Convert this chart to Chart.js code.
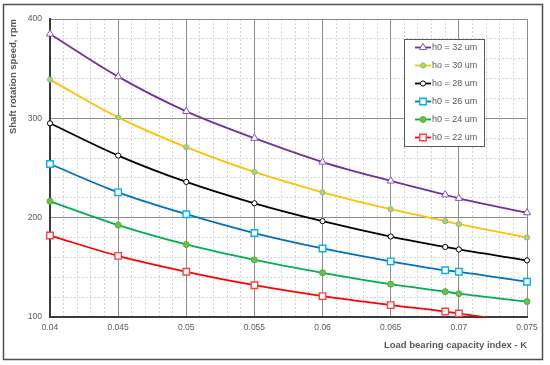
<!DOCTYPE html>
<html>
<head>
<meta charset="utf-8">
<script src="https://cdn.jsdelivr.net/npm/chart.js@4"></script>
<style>
  body { margin: 0; background: #fff; }
  #wrap { width: 550px; height: 365px; position: relative; }
</style>
</head>
<body>
<div id="wrap"><canvas id="my-chart"></canvas></div>
<script>
// load bearing capacity index K (x values)
const kValues = [0.04, 0.045, 0.05, 0.055, 0.06, 0.065, 0.069, 0.07, 0.075];

// shaft speed, rpm, one list per film thickness
const h32 = [385, 342, 307, 280, 256, 237, 223, 219.5, 205];
const h30 = [339, 301, 271, 246, 225.5, 208.5, 196.5, 193.5, 180];
const h28 = [295, 262.5, 236, 214.5, 196.5, 181, 170.5, 168, 157];
const h26 = [254, 225.5, 203.5, 184.5, 169, 156, 147, 145.5, 135.5];
const h24 = [216.5, 192.5, 173, 157.5, 144.5, 133, 125.5, 123.5, 115.5];
const h22 = [182, 161.5, 145.5, 132, 121, 112, 105.5, 103.5, 94];

const seriesLabels = ["h0 = 32 um", "ho = 30 um", "ho = 28 um", "h0 = 26 um", "h0 = 24 um", "h0 = 22 um"];

const textGrey = "#595959";

function toPoints(arr) {
    return arr.map((v, i) => ({ x: kValues[i], y: v }));
}

function makeSet(label, values, line, style, radius, fill, stroke, bw) {
    return {
        label: label,
        data: toPoints(values),
        borderColor: line,
        borderWidth: 1.8,
        pointStyle: style,
        pointRadius: radius,
        pointHoverRadius: radius,
        pointBackgroundColor: fill,
        pointBorderColor: stroke,
        pointBorderWidth: bw,
        cubicInterpolationMode: "monotone",
        // let edge markers show, but cut the line at the bottom axis
        clip: { left: 10, top: 10, right: 10, bottom: 0 }
    };
}

const datasets = [
    makeSet(seriesLabels[0], h32, "#7030A0", "triangle", 4.2, "#fff", "#8B4FC0", 1),
    makeSet(seriesLabels[1], h30, "#FFC000", "circle", 2.6, "#A9D08E", "#8CC063", 1),
    makeSet(seriesLabels[2], h28, "#000000", "circle", 2.6, "#fff", "#000", 1),
    makeSet(seriesLabels[3], h26, "#0070C0", "rect", 4.6, "#fff", "#00B0F0", 1.4),
    makeSet(seriesLabels[4], h24, "#00B050", "circle", 3, "#6CC04A", "#4DAF3A", 1),
    makeSet(seriesLabels[5], h22, "#FF0000", "rect", 4.6, "#fff", "#FF4040", 1.4)
];

function isMultiple(v, step) {
    const r = v / step;
    return Math.abs(r - Math.round(r)) < 1e-6;
}

// white background + outer frame
const framePlugin = {
    id: "frame",
    beforeDraw(chart) {
        const ctx = chart.ctx;
        ctx.save();
        ctx.fillStyle = "#fff";
        ctx.fillRect(0, 0, chart.width, chart.height);
        ctx.strokeStyle = "#4f4f4f";
        ctx.lineWidth = 1.5;
        ctx.strokeRect(3.5, 4.5, 539, 355);
        ctx.restore();
    }
};

// boxed legend inside the plot
const boxLegend = {
    id: "boxLegend",
    afterDraw(chart) {
        const ctx = chart.ctx;
        ctx.save();
        ctx.fillStyle = "#fff";
        ctx.fillRect(404, 39, 80, 107);
        ctx.strokeStyle = "#595959";
        ctx.lineWidth = 1;
        ctx.strokeRect(404.5, 39.5, 80, 107);
        ctx.font = "9px 'Liberation Sans'";
        ctx.textBaseline = "middle";
        chart.data.datasets.forEach((ds, i) => {
            const y = 47.5 + i * 18;
            ctx.strokeStyle = ds.borderColor;
            ctx.lineWidth = 1.8;
            ctx.beginPath();
            ctx.moveTo(415, y);
            ctx.lineTo(431, y);
            ctx.stroke();
            ctx.fillStyle = ds.pointBackgroundColor;
            ctx.strokeStyle = ds.pointBorderColor;
            ctx.lineWidth = ds.pointBorderWidth;
            Chart.helpers.drawPoint(ctx, {
                pointStyle: ds.pointStyle,
                radius: ds.pointRadius,
                borderWidth: ds.pointBorderWidth,
                rotation: 0
            }, 423, y);
            ctx.fillStyle = textGrey;
            ctx.fillText(ds.label, 432, y);
        });
        ctx.restore();
    }
};

const ctx = document.getElementById("my-chart").getContext("2d");

const myChart = new Chart(ctx, {
    type: "line",
    data: { datasets },
    plugins: [framePlugin, boxLegend],
    options: {
        responsive: true,
        maintainAspectRatio: false,
        animation: false,
        events: [],
        layout: { padding: { left: 0, right: 23, top: 19, bottom: 0 } },
        plugins: {
            legend: { display: false },
            tooltip: { enabled: false }
        },
        scales: {
            xMinor: {
                type: "linear",
                position: "bottom",
                min: 0.04,
                max: 0.075,
                ticks: { display: false, stepSize: 0.001 },
                grid: {
                    drawTicks: false,
                    lineWidth: 1,
                    color: c => isMultiple(c.tick.value, 0.005) ? "rgba(0,0,0,0)" : "#d4d4d4"
                },
                border: { display: false, dash: [2, 2] },
                afterFit: s => { s.height = 0; }
            },
            yMinor: {
                type: "linear",
                position: "left",
                min: 100,
                max: 400,
                ticks: { display: false, stepSize: 20 },
                grid: {
                    drawTicks: false,
                    lineWidth: 1,
                    color: c => isMultiple(c.tick.value, 100) ? "rgba(0,0,0,0)" : "#d4d4d4"
                },
                border: { display: false, dash: [2, 2] },
                afterFit: s => { s.width = 0; }
            },
            x: {
                type: "linear",
                position: "bottom",
                min: 0.04,
                max: 0.075,
                ticks: {
                    stepSize: 0.005,
                    padding: 6,
                    color: textGrey,
                    font: { family: "'Liberation Sans'", size: 8.5 },
                    callback: v => String(+v.toFixed(3))
                },
                grid: { drawTicks: false, color: "#8c8c8c", lineWidth: 1 },
                border: { color: "#3a3a3a", width: 2 },
                title: {
                    display: true,
                    text: "Load bearing capacity index - K",
                    align: "end",
                    color: textGrey,
                    font: { family: "'Liberation Sans'", size: 9.5, weight: "bold" },
                    padding: { top: 0, bottom: 14 }
                },
                afterFit: s => { s.height = 48; }
            },
            y: {
                type: "linear",
                position: "left",
                min: 100,
                max: 400,
                ticks: {
                    stepSize: 100,
                    padding: 8,
                    color: textGrey,
                    font: { family: "'Liberation Sans'", size: 8.5 }
                },
                grid: { drawTicks: false, color: "#8c8c8c", lineWidth: 1 },
                border: { color: "#3a3a3a", width: 2 },
                title: {
                    display: true,
                    text: "Shaft rotation speed, rpm",
                    align: "end",
                    color: textGrey,
                    font: { family: "'Liberation Sans'", size: 9.5, weight: "bold" },
                    padding: { top: 8, bottom: 0 }
                },
                afterFit: s => { s.width = 50; }
            }
        }
    }
});
</script>
</body>
</html>
